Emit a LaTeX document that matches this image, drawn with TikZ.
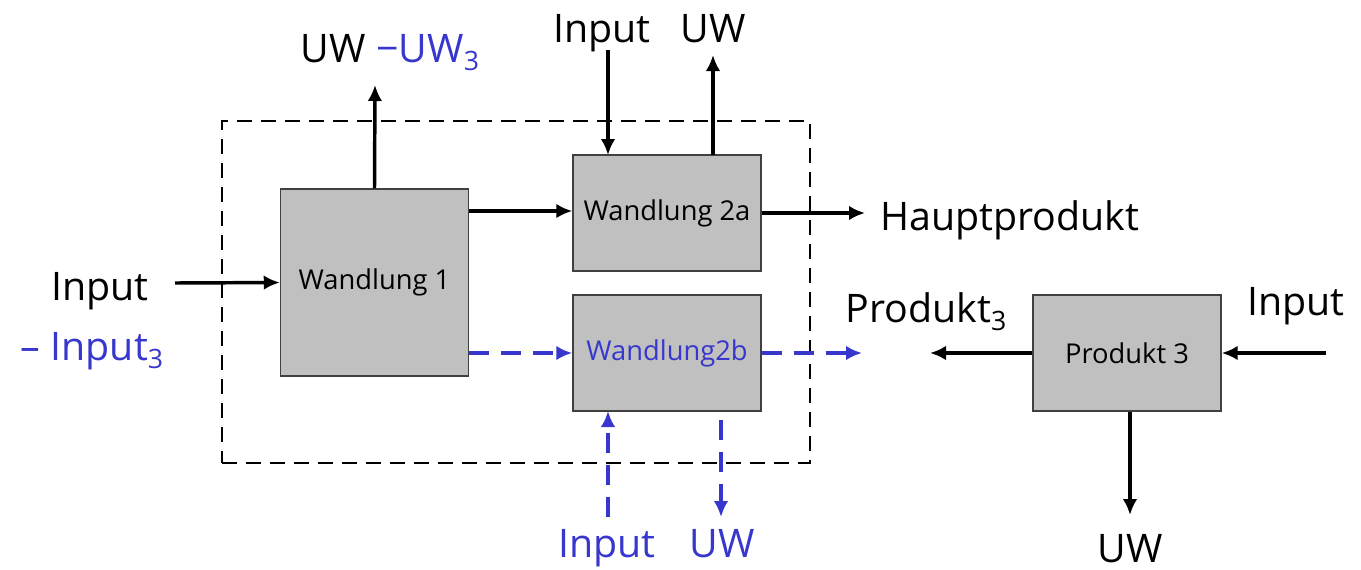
\documentclass[tikz,border=0pt]{standalone}
\usepackage{fontspec}
\setmainfont{Open Sans}
\usetikzlibrary{arrows.meta}
\definecolor{myblue}{RGB}{55,55,205}
\definecolor{boxgray}{RGB}{192,192,192}
\newcommand{\idx}[1]{\raisebox{-0.4ex}{\fontsize{20}{20}\selectfont #1}}
\begin{document}
\begin{tikzpicture}[x=0.75pt,y=-0.75pt,
  proc/.style={draw=black!75, line width=1.1pt, fill=boxgray, minimum width=141pt, inner sep=0pt, font=\fontsize{20.5}{24}\selectfont},
  lbl/.style={font=\fontsize{29.5}{33}\selectfont, inner sep=0pt, anchor=base},
  flow/.style={line width=2.6pt, -{Latex[length=12pt,width=11pt]}},
  bflow/.style={myblue, line width=2.6pt, dash pattern=on 15pt off 9pt, -{Latex[length=12pt,width=11pt]}},
  sysbox/.style={draw, line width=1.6pt, dash pattern=on 11pt off 7pt, inner sep=0pt}
]
\useasboundingbox (0,0) rectangle (1361,569);
\node[sysbox, minimum width=441pt, minimum height=256.5pt] (sys) at (516,292) {};

\node[proc, minimum height=140.25pt] (W1) at (374.5,282.5) {Wandlung 1};
\node[proc, minimum height=87pt] (W2a) at (667,213) {Wandlung 2a};
\node[proc, minimum height=87pt, text=myblue] (W2b) at (667,353) {Wandlung2b};
\node[proc, minimum height=87pt] (P3) at (1127,353) {Produkt 3};

% labels
\node[lbl] (uwtl) at (390,62) {UW {\color{myblue}−UW\idx{3}}};
\node[lbl] (intop) at (602,42) {Input};
\node[lbl] (uwtop) at (713,42) {UW};
\node[lbl, anchor=base west] (haupt) at (880,230) {Hauptprodukt};
\node[lbl] (inleft) at (100,300) {Input};
\node[lbl, text=myblue] (in3) at (92,360) {– Input\idx{3}};
\node[lbl] (prod3) at (926,322) {Produkt\idx{3}};
\node[lbl] (inright) at (1296,315) {Input};
\node[lbl] (uwbot) at (1130,562) {UW};
\node[lbl, text=myblue] (inblue) at (607,557) {Input};
\node[lbl, text=myblue] (uwblue) at (722,557) {UW};

% free ends
\coordinate (cL) at (175,283);
\coordinate (cTL) at (375,85);
\coordinate (cInTop) at (608,50);
\coordinate (cInTopEnd) at (608,155);
\coordinate (cUwTopS) at (713,155);
\coordinate (cUwTop) at (713,55);
\coordinate (cHaupt) at (865,213);
\coordinate (cB2) at (862,353);
\coordinate (cP3L) at (930,353);
\coordinate (cP3R) at (1326,353);
\coordinate (cP3D) at (1130,515);
\coordinate (cBInS) at (608,517);
\coordinate (cBInE) at (608,411);
\coordinate (cBUwS) at (721,420);
\coordinate (cBUwE) at (721,517);

\draw[flow] (cL) -- (W1.west);
\draw[flow] (W1.north) -- (cTL);
\draw[flow] (W1.east |- 0,211) -- (W2a.west |- 0,211);
\draw[flow] (cInTop) -- (cInTopEnd);
\draw[flow] (cUwTopS) -- (cUwTop);
\draw[flow] (W2a.east) -- (cHaupt);
\draw[bflow] (W1.east |- W2b.west) -- (W2b.west);
\draw[bflow] (W2b.east) -- (cB2);
\draw[flow] (P3.west) -- (cP3L);
\draw[flow] (cP3R) -- (P3.east);
\draw[flow] (P3.south -| cP3D) -- (cP3D);
\draw[bflow] (cBInS) -- (cBInE);
\draw[bflow] (cBUwS) -- (cBUwE);
\end{tikzpicture}
\end{document}
